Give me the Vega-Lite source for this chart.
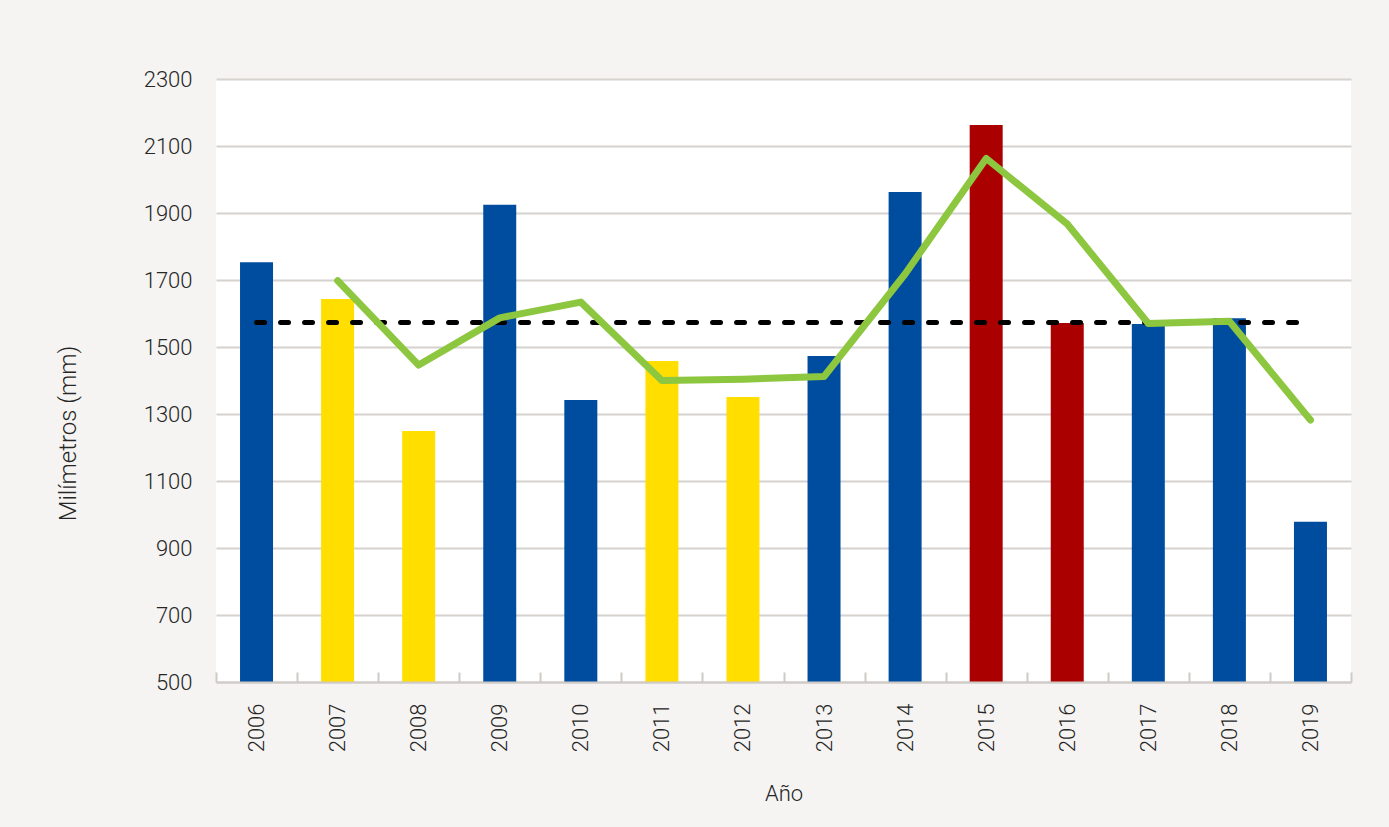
{
  "$schema": "https://vega.github.io/schema/vega-lite/v6.json",
  "width": 1135,
  "height": 603,
  "autosize": {"type": "none"},
  "padding": {"left": 216, "top": 79, "right": 38, "bottom": 145},
  "background": "#f5f4f2",
  "view": {"fill": "#ffffff", "stroke": null},
  "config": {
    "font": "Roboto",
    "axis": {"labelFont": "Roboto", "titleFont": "Roboto", "labelColor": "#262626", "titleColor": "#262626", "labelFontWeight": 300, "titleFontWeight": 300}
  },
  "data": {
    "values": [
      {"anio": "2006", "mm": 1753, "tipo": "normal", "media": null, "promedio": 1573},
      {"anio": "2007", "mm": 1643, "tipo": "seco", "media": 1698, "promedio": 1573},
      {"anio": "2008", "mm": 1249, "tipo": "seco", "media": 1446, "promedio": 1573},
      {"anio": "2009", "mm": 1925, "tipo": "normal", "media": 1587, "promedio": 1573},
      {"anio": "2010", "mm": 1342, "tipo": "normal", "media": 1634, "promedio": 1573},
      {"anio": "2011", "mm": 1458, "tipo": "seco", "media": 1400, "promedio": 1573},
      {"anio": "2012", "mm": 1351, "tipo": "seco", "media": 1404, "promedio": 1573},
      {"anio": "2013", "mm": 1473, "tipo": "normal", "media": 1412, "promedio": 1573},
      {"anio": "2014", "mm": 1963, "tipo": "normal", "media": 1718, "promedio": 1573},
      {"anio": "2015", "mm": 2163, "tipo": "humedo", "media": 2063, "promedio": 1573},
      {"anio": "2016", "mm": 1572, "tipo": "humedo", "media": 1867, "promedio": 1573},
      {"anio": "2017", "mm": 1569, "tipo": "normal", "media": 1570, "promedio": 1573},
      {"anio": "2018", "mm": 1586, "tipo": "normal", "media": 1577, "promedio": 1573},
      {"anio": "2019", "mm": 978, "tipo": "normal", "media": 1282, "promedio": 1573}
    ]
  },
  "encoding": {
    "x": {
      "field": "anio",
      "type": "ordinal",
      "scale": {"paddingInner": 0, "paddingOuter": 0},
      "axis": {
        "title": "Año",
        "titleFontSize": 22,
        "titlePadding": 32,
        "labelAngle": -90,
        "labelFontSize": 22,
        "labelPadding": 31,
        "domainColor": "#cfcac5",
        "domainWidth": 2,
        "tickColor": "#cfcac5",
        "tickWidth": 2,
        "tickSize": -10,
        "tickBand": "extent",
        "zindex": 1
      }
    }
  },
  "layer": [
    {
      "mark": {"type": "bar", "clip": true, "width": {"band": 0.407}},
      "encoding": {
        "y": {
          "field": "mm",
          "type": "quantitative",
          "scale": {"domain": [500, 2300], "nice": false, "zero": false},
          "axis": {
            "title": "Milímetros (mm)",
            "titleFontSize": 24,
            "titleX": -136,
            "titleY": 354,
            "values": [500, 700, 900, 1100, 1300, 1500, 1700, 1900, 2100, 2300],
            "format": "d",
            "labelFontSize": 22,
            "labelPadding": 24,
            "domain": false,
            "ticks": false,
            "grid": true,
            "gridColor": "#d6d2cd",
            "gridWidth": 2
          }
        },
        "color": {
          "field": "tipo",
          "type": "nominal",
          "scale": {"domain": ["normal", "seco", "humedo"], "range": ["#004c9f", "#ffde00", "#ab0000"]},
          "legend": null
        }
      }
    },
    {
      "mark": {"type": "line", "color": "#000000", "strokeWidth": 5, "strokeDash": [8, 16], "strokeCap": "round"},
      "encoding": {
        "y": {"field": "promedio", "type": "quantitative"}
      }
    },
    {
      "mark": {"type": "line", "color": "#8dc63f", "strokeWidth": 7, "strokeCap": "round", "strokeJoin": "round"},
      "encoding": {
        "y": {"field": "media", "type": "quantitative"}
      }
    }
  ]
}
